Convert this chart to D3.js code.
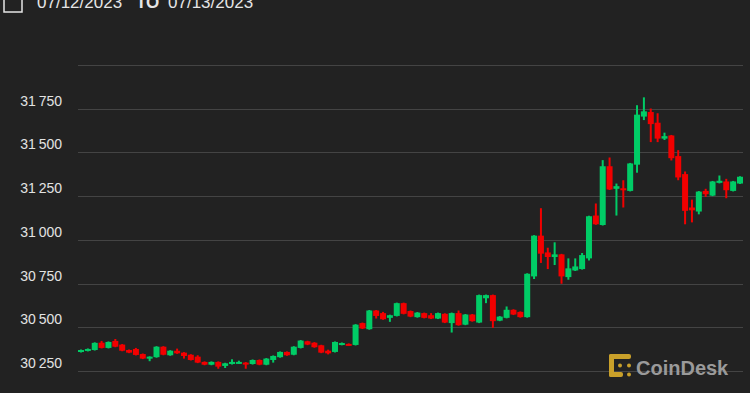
<!DOCTYPE html>
<html>
<head>
<meta charset="utf-8">
<script src="https://cdn.jsdelivr.net/npm/d3@7"></script>
<style>
    html, body { margin: 0; padding: 0; background: #222222; }
    #chart { width: 750px; height: 393px; overflow: hidden; }
</style>
</head>
<body>
<div id="chart"></div>
<script>
// BTC/USD 15 minute candles, 07/12/2023 to 07/13/2023
var opens  = [30359,30365,30370,30412,30382,30422,30401,30370,30376,30347,30325,30329,30389,30340,30366,30355,30343,30332,30302,30286,
              30302,30279,30290,30294,30298,30290,30313,30286,30313,30329,30359,30343,30382,30420,30412,30397,30366,30359,30400,30405,
              30399,30524,30489,30596,30581,30554,30565,30638,30593,30558,30581,30569,30550,30577,30524,30581,30515,30573,30527,30666,
              30684,30538,30554,30600,30588,30558,30791,31024,30928,30902,30917,30787,30825,30833,30894,31139,31085,31421,31292,31295,
              31280,31430,31705,31731,31670,31579,31597,31479,31376,31185,31162,31280,31253,31326,31334,31280,31322];
var closes = [30370,30376,30411,30382,30416,30389,30366,30355,30342,30321,30332,30389,30343,30366,30351,30336,30313,30298,30286,30302,
              30275,30294,30302,30302,30290,30313,30286,30321,30336,30359,30340,30389,30424,30401,30386,30355,30351,30416,30410,30400,
              30515,30493,30596,30565,30546,30569,30638,30577,30561,30584,30554,30550,30581,30527,30581,30512,30573,30535,30684,30684,
              30535,30561,30600,30573,30558,30806,31024,30921,30902,30917,30791,30837,30848,30913,31135,31089,31421,31288,31307,31284,
              31437,31716,31735,31662,31579,31593,31467,31357,31166,31169,31276,31261,31334,31338,31284,31334,31361];
var highs  = [30373,30379,30414,30422,30419,30433,30404,30373,30382,30350,30334,30392,30392,30369,30378,30358,30346,30340,30305,30305,
              30305,30297,30317,30309,30301,30316,30316,30324,30339,30362,30362,30392,30427,30423,30415,30400,30372,30419,30413,30408,
              30518,30527,30599,30599,30588,30572,30641,30641,30596,30587,30584,30581,30584,30580,30584,30596,30576,30576,30687,30687,
              30687,30564,30619,30603,30591,30809,31027,31181,30955,30986,30920,30894,30894,30925,31138,31208,31456,31471,31322,31341,
              31440,31770,31815,31751,31724,31613,31600,31513,31391,31230,31279,31292,31337,31368,31349,31337,31364];
var lows   = [30356,30362,30367,30379,30379,30386,30363,30352,30339,30318,30306,30326,30340,30337,30348,30321,30310,30295,30283,30283,
              30263,30267,30287,30291,30263,30287,30283,30283,30298,30326,30337,30340,30379,30398,30383,30352,30345,30356,30397,30396,
              30396,30490,30486,30550,30543,30531,30562,30574,30558,30555,30551,30547,30547,30524,30470,30509,30512,30532,30524,30638,
              30497,30535,30551,30570,30555,30555,30776,30868,30833,30856,30749,30772,30822,30830,30882,31086,31082,31285,31139,31185,
              31277,31384,31685,31559,31559,31571,31454,31341,31089,31100,31146,31246,31250,31323,31238,31277,31319];
var yTicks = [30250, 30500, 30750, 31000, 31250, 31500, 31750, 32000];
var dateFrom = "07/12/2023";
var dateTo = "07/13/2023";

var width = 750, height = 393;
var green = "#00cc66", red = "#f20000";

var svg = d3.select("#chart").append("svg")
    .attr("width", width)
    .attr("height", height);

svg.append("rect")
    .attr("width", width)
    .attr("height", height)
    .attr("fill", "#222222");

var x = d3.scaleLinear()
    .domain([0, opens.length - 1])
    .range([81, 740]);

var y = d3.scaleLinear()
    .domain([30250, 32000])
    .range([371, 65]);

// grid lines
svg.append("g")
    .selectAll("line")
    .data(yTicks)
    .enter()
    .append("line")
    .attr("x1", 78)
    .attr("x2", 743)
    .attr("y1", function (d) { return Math.round(y(d)) + 0.5; })
    .attr("y2", function (d) { return Math.round(y(d)) + 0.5; })
    .attr("stroke", "#444444")
    .attr("stroke-width", 1);

// y labels, sit just above their grid line
var fmt = function (d) {
    return d3.format(",")(d).replace(",", "\u2009");
};
svg.append("g")
    .selectAll("text")
    .data(yTicks.filter(function (d) { return d < 32000; }))
    .enter()
    .append("text")
    .attr("x", 62)
    .attr("y", function (d) { return y(d) - 3; })
    .attr("text-anchor", "end")
    .attr("style", 'font-family: "Liberation Sans", Arial, sans-serif; font-size: 14px; fill: #e2e2e2;')
    .text(fmt);

// candles
var candles = svg.append("g")
    .selectAll("g")
    .data(d3.range(opens.length))
    .enter()
    .append("g");

candles.append("line")
    .attr("x1", function (i) { return x(i); })
    .attr("x2", function (i) { return x(i); })
    .attr("y1", function (i) { return y(highs[i]); })
    .attr("y2", function (i) { return y(lows[i]); })
    .attr("stroke", function (i) { return closes[i] >= opens[i] ? green : red; })
    .attr("stroke-width", 2);

candles.append("rect")
    .attr("x", function (i) { return x(i) - 3; })
    .attr("width", 6)
    .attr("y", function (i) { return y(Math.max(opens[i], closes[i])); })
    .attr("height", function (i) {
        return Math.max(2, Math.abs(y(opens[i]) - y(closes[i])));
    })
    .attr("fill", function (i) { return closes[i] >= opens[i] ? green : red; });

// header: checkbox and date range
svg.append("rect")
    .attr("x", 4)
    .attr("y", -6)
    .attr("width", 18)
    .attr("height", 18)
    .attr("fill", "none")
    .attr("stroke", "#e6e6e6")
    .attr("stroke-width", 1.5);

var head = svg.append("text")
    .attr("x", 37)
    .attr("y", 8)
    .attr("style", 'font-family: "Liberation Sans", Arial, sans-serif; font-size: 17px; fill: #e6e6e6;');
head.append("tspan").text(dateFrom);
head.append("tspan").attr("x", 136).attr("font-weight", "bold").text("TO");
head.append("tspan").attr("x", 168).text(dateTo);

// CoinDesk logo
var logo = svg.append("g").attr("transform", "translate(609,354)");
var gold = "#c9a02a";
logo.append("rect").attr("x", 0).attr("y", 0).attr("width", 5).attr("height", 23).attr("rx", 2).attr("fill", gold);
logo.append("rect").attr("x", 0).attr("y", 0).attr("width", 22).attr("height", 5).attr("rx", 2).attr("fill", gold);
logo.append("rect").attr("x", 0).attr("y", 18).attr("width", 14).attr("height", 5).attr("rx", 2).attr("fill", gold);
logo.append("circle").attr("cx", 11).attr("cy", 11.5).attr("r", 2).attr("fill", gold);
logo.append("circle").attr("cx", 20).attr("cy", 11.5).attr("r", 2).attr("fill", gold);
logo.append("circle").attr("cx", 20).attr("cy", 20.5).attr("r", 2).attr("fill", gold);

svg.append("text")
    .attr("x", 636)
    .attr("y", 375)
    .attr("style", 'font-family: "Liberation Sans", Arial, sans-serif; font-size: 20px; font-weight: bold; fill: #9a9a9a;')
    .text("CoinDesk");
</script>
</body>
</html>
